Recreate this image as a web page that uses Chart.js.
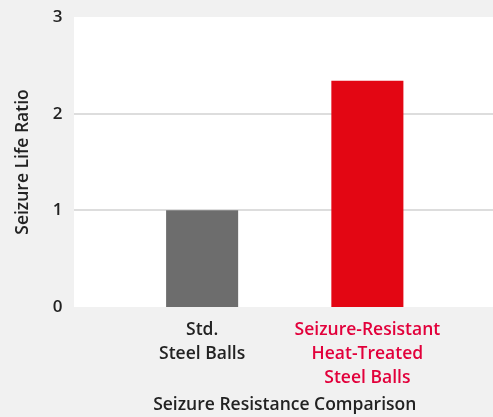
<!DOCTYPE html>
<html>
<head>
<meta charset="utf-8">
<script src="https://cdn.jsdelivr.net/npm/chart.js@4/dist/chart.umd.min.js"></script>
<style>
  html, body { margin: 0; padding: 0; background: #f1f1f1; }
  #wrap { width: 493px; height: 417px; }
</style>
</head>
<body>
<div id="wrap"><canvas id="myChart"></canvas></div>
<script>
var categories = [
    ["Std.", "Steel Balls"],
    ["Seizure-Resistant", "Heat-Treated", "Steel Balls"]
];
var ratios = [1.0, 2.34];
var barColors = ["#6d6d6d", "#e30613"];
var labelColors = ["#222222", "#e2003b"];
var yTicks = [0, 1, 2, 3];

var FONT = "'Open Sans', 'Noto Sans', sans-serif";

// white plot panel + gridlines reaching from the axis to the right edge
var panel = {
    id: 'panel',
    beforeDraw: function (chart) {
        var c = chart.ctx, y = chart.scales.y;
        var top = y.getPixelForValue(yTicks[yTicks.length - 1]);
        var bottom = y.getPixelForValue(yTicks[0]);
        c.save();
        c.fillStyle = '#f1f1f1';
        c.fillRect(0, 0, chart.width, chart.height);
        c.fillStyle = '#ffffff';
        c.fillRect(74, top, chart.width - 74, bottom - top);
        c.strokeStyle = '#dddddd';
        c.lineWidth = 2;
        yTicks.slice(1, -1).forEach(function (v) {
            var py = Math.round(y.getPixelForValue(v));
            c.beginPath();
            c.moveTo(74, py);
            c.lineTo(chart.width, py);
            c.stroke();
        });
        c.restore();
    }
};

var ctx = document.getElementById('myChart');

new Chart(ctx, {
    type: 'bar',
    data: {
        labels: categories,
        datasets: [{
            data: ratios,
            backgroundColor: barColors,
            borderWidth: 0,
            barPercentage: 0.436,
            categoryPercentage: 1
        }]
    },
    options: {
        responsive: true,
        maintainAspectRatio: false,
        animation: false,
        layout: { padding: { top: 17, right: 43, left: 0, bottom: 0 } },
        plugins: { legend: { display: false }, tooltip: { enabled: false } },
        scales: {
            x: {
                grid: { display: false, drawTicks: false },
                border: { display: false },
                afterFit: function (s) { s.height = 110; },
                ticks: {
                    padding: 11,
                    maxRotation: 0,
                    autoSkip: false,
                    font: { family: FONT, size: 17.5, weight: '600', lineHeight: '24px' },
                    color: function (c) { return labelColors[c.index]; }
                },
                title: {
                    display: true,
                    text: 'Seizure Resistance Comparison',
                    color: '#222222',
                    font: { family: FONT, size: 17.5, weight: '600', lineHeight: '24px' },
                    padding: { top: 0, bottom: 0 }
                }
            },
            y: {
                min: 0,
                max: 3,
                grid: { display: false, drawTicks: false },
                border: { display: false },
                afterFit: function (s) {
                    s.width = 119.5;
                    s.paddingTop = 0;
                    s.paddingBottom = 0;
                },
                afterBuildTicks: function (s) {
                    s.ticks = yTicks.map(function (v) { return { value: v }; });
                },
                ticks: {
                    padding: 57,
                    color: '#222222',
                    font: { family: FONT, size: 17, weight: '600' }
                },
                title: {
                    display: true,
                    text: 'Seizure Life Ratio',
                    color: '#222222',
                    font: { family: FONT, size: 17.5, weight: '600', lineHeight: '24px' },
                    padding: { top: 11, bottom: 0 }
                }
            }
        }
    },
    plugins: [panel]
});
</script>
</body>
</html>
